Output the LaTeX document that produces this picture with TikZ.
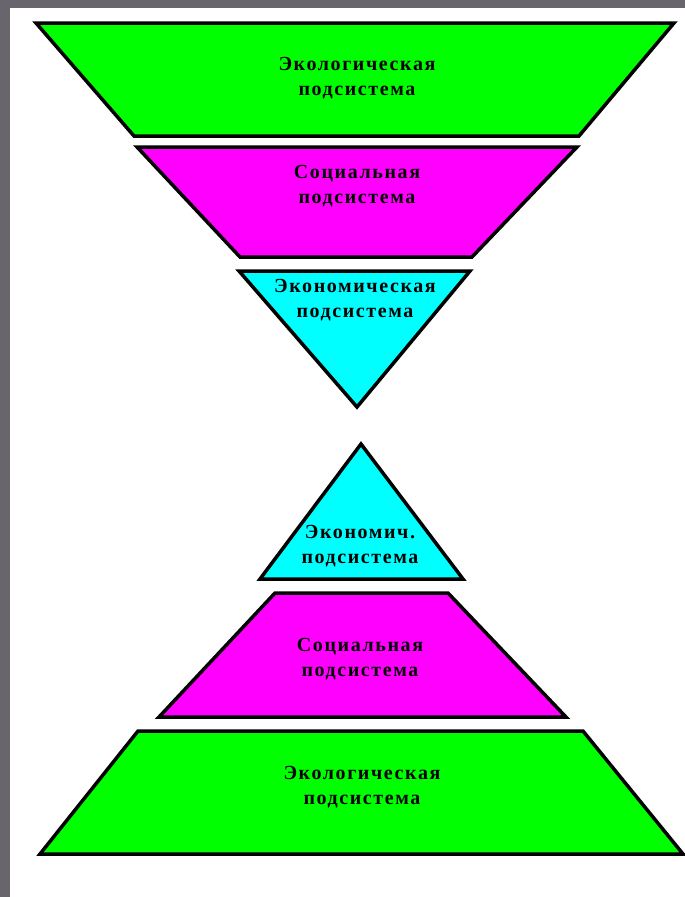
\documentclass[tikz,border=0pt]{standalone}
\usepackage{fontspec}
\setmainfont{Liberation Serif}
\begin{document}
\begin{tikzpicture}[x=1pt,y=-1pt,
  shapebox/.style={draw=black,line width=3.5pt,line join=miter},
  lbl/.style={align=center,font=\bfseries\fontsize{20}{25.5}\selectfont\addfontfeature{LetterSpace=8},text=black,inner sep=0pt}]
\definecolor{frame}{RGB}{104,102,108}
\definecolor{gr}{RGB}{0,255,0}
\definecolor{mg}{RGB}{255,0,255}
\definecolor{cy}{RGB}{0,255,255}
\useasboundingbox (0,0) rectangle (685,897);
\fill[white] (0,0) rectangle (685,897);
\fill[frame] (0,0) rectangle (10,897);
\fill[frame] (0,0) rectangle (685,8);
% top inverted pyramid
\filldraw[shapebox,fill=gr] (36,23) -- (674,23) -- (579,136) -- (134,136) -- cycle;
\filldraw[shapebox,fill=mg] (137,147) -- (577,147) -- (472,257) -- (240,257) -- cycle;
\filldraw[shapebox,fill=cy] (239,271) -- (470,271) -- (357,407) -- cycle;
\node[lbl] (t1) at (357,78) {Экологическая\\подсистема};
\node[lbl] (t2) at (357,186) {Социальная\\подсистема};
\node[lbl] (t3) at (355,300) {Экономическая\\подсистема};
% bottom pyramid
\filldraw[shapebox,fill=cy] (361,444) -- (463,579) -- (260,579) -- cycle;
\filldraw[shapebox,fill=mg] (275,593) -- (448,593) -- (566,717) -- (159,717) -- cycle;
\filldraw[shapebox,fill=gr] (138,731) -- (583,731) -- (683,854) -- (40,854) -- cycle;
\node[lbl] (b1) at (360,546) {Экономич.\\подсистема};
\node[lbl] (b2) at (360,659) {Социальная\\подсистема};
\node[lbl] (b3) at (362,787) {Экологическая\\подсистема};
\end{tikzpicture}
\end{document}
